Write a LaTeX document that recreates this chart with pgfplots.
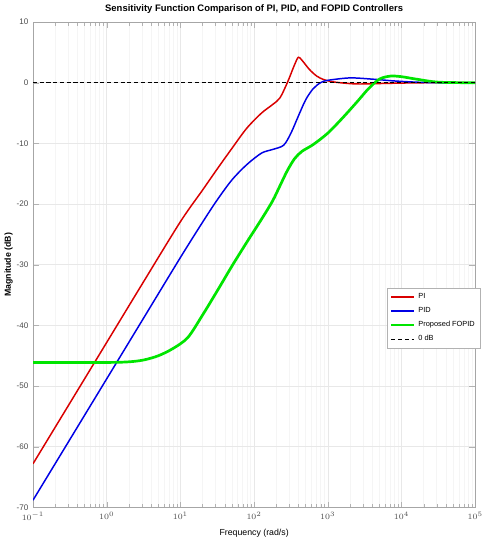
\documentclass[border=0pt]{standalone}
\usepackage{fontspec}
\setmainfont{Liberation Sans}
\usepackage{pgfplots}
\pgfplotsset{compat=1.18}

\begin{document}
\begin{tikzpicture}
\begin{axis}[
  scale only axis, width=328pt, height=360pt,
  xmode=log, xmin=0.1, xmax=100000,
  ymin=-70, ymax=10, ytick={-70,-60,...,10},
  xtick={0.1,1,10,100,1000,10000,100000},
  tick label style={font=\fontsize{6}{7}\selectfont, gray!60!black},
  /pgf/number format/assume math mode=true,
  tick align=inside, axis line style={gray!70}, tick style={gray!60},
  grid=both, major grid style={gray!18}, minor grid style={gray!8},
  title={\fontsize{7}{8}\selectfont\bfseries Sensitivity Function Comparison of PI, PID, and FOPID Controllers},
  title style={yshift=-3pt},
  xlabel={\fontsize{6.5}{7}\selectfont Frequency (rad/s)},
  ylabel={\fontsize{6.5}{7}\selectfont\bfseries Magnitude (dB)},
  ylabel style={yshift=-4pt},
  legend style={font=\fontsize{5.5}{6}\selectfont, at={(1.012,0.39)}, anchor=east,
    draw=gray!60, fill=white, row sep=1pt, inner sep=2pt},
  legend cell align=left]
% PI
\addplot[red!85!black, line width=1.1pt, smooth, tension=0.5] coordinates {
(0.1,-62.8) (0.3162,-52.8) (1,-42.8) (3.162,-32.8) (10,-22.9) (19.95,-17.7)
(31.62,-14.2) (50.12,-10.8) (79.43,-7.5) (125.9,-5.0) (177.8,-3.6) (223.9,-2.5)
(281.8,0.0) (354.8,3.0) (398.1,4.2) (446.7,3.7) (562.3,2.2) (707.9,1.1)
(891.3,0.5) (1259,0.1) (2512,-0.2) (6310,-0.1) (19953,0) (100000,0)};
% PID
\addplot[blue!90!black, line width=1.1pt, smooth, tension=0.5] coordinates {
(0.1,-68.8) (1,-48.8) (3.162,-38.8) (10,-28.8) (19.95,-23.0) (31.62,-19.3)
(50.12,-16.0) (79.43,-13.5) (125.9,-11.6) (177.8,-11.0) (251.2,-10.3) (316.2,-8.3)
(398.1,-5.5) (501.2,-2.8) (631.0,-1.0) (794.3,0.0) (1000,0.4) (1995,0.8)
(3981,0.6) (7943,0.3) (15849,0.1) (31623,0) (100000,0)};
% FOPID
\addplot[green!90!black, line width=2pt, smooth, tension=0.5] coordinates {
(0.1,-46.1) (1,-46.1) (1.995,-46.0) (3.162,-45.7) (5.012,-45.0) (7.943,-43.8)
(12.59,-42.0) (19.95,-38.3) (31.62,-34.3) (50.12,-30.2) (79.43,-26.3) (125.9,-22.5)
(177.8,-19.5) (223.9,-17.0) (281.8,-14.5) (354.8,-12.5) (446.7,-11.3) (631.0,-10.2)
(1000,-8.3) (1585,-5.8) (2512,-3.1) (3548,-1.0) (5012,0.6) (7079,1.1)
(10000,1.0) (15849,0.6) (31623,0.1) (100000,0)};
% 0 dB reference
\addplot[black, densely dashed, line width=0.5pt] coordinates {(0.1,0) (100000,0)};
\legend{PI,PID,Proposed FOPID,0 dB}
\end{axis}
\end{tikzpicture}
\end{document}
